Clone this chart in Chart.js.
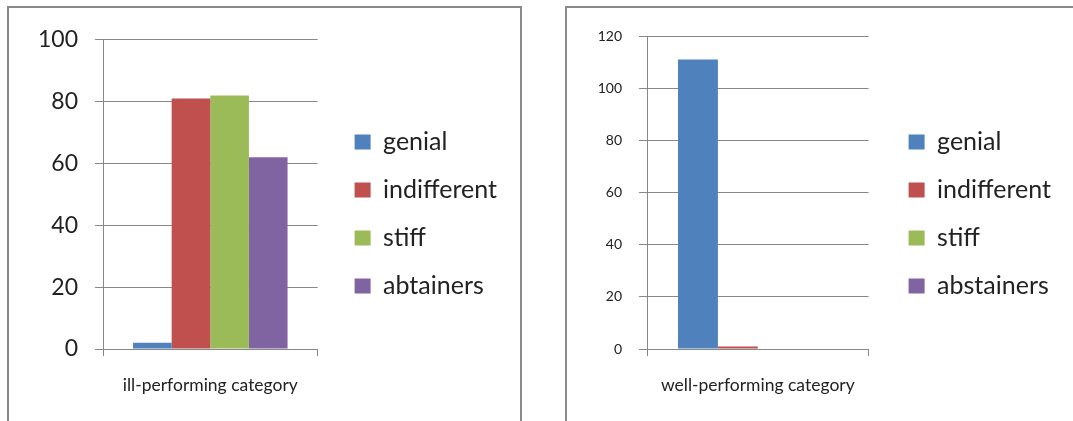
<!DOCTYPE html>
<html>
<head>
<meta charset="utf-8">
<script src="https://cdn.jsdelivr.net/npm/chart.js@4"></script>
<style>
  body { margin: 0; background: #fff; width: 1073px; height: 421px; overflow: hidden; position: relative; }
  .panel { position: absolute; border: 2px solid #8a8a8a; box-sizing: border-box; background: #fff; }
  canvas { position: absolute; }
</style>
</head>
<body>
<div class="panel" style="left:7px; top:6px; width:515px; height:440px;"></div>
<div class="panel" style="left:565px; top:6px; width:530px; height:440px;"></div>
<canvas id="illChart" width="510" height="412" style="left:9px; top:9px;"></canvas>
<canvas id="wellChart" width="505" height="412" style="left:568px; top:9px;"></canvas>
<script>
// categories and series
const illCategory = ['ill-performing category'];
const wellCategory = ['well-performing category'];
const illSeries = ['genial', 'indifferent', 'stiff', 'abtainers'];
const wellSeries = ['genial', 'indifferent', 'stiff', 'abstainers'];
const illValues = [2, 81, 82, 62];
const wellValues = [111, 1, 0, 0];
const illTicks = [0, 20, 40, 60, 80, 100];
const wellTicks = [0, 20, 40, 60, 80, 100, 120];
const colors = ['#4F81BD', '#C0504D', '#9BBB59', '#8064A2'];

const FONT = 'Lato';
const GRID = '#878787';
const LEG_SIZE = 25;
const LEG_PAD = 23;
const LEG_BOX = 16;

// width chart.js gives a vertical legend (so we can place it exactly)
function legendWidth(names) {
  const ctx = document.createElement('canvas').getContext('2d');
  ctx.font = LEG_SIZE + 'px ' + FONT;
  let w = 0;
  names.forEach(n => { w = Math.max(w, ctx.measureText(n).width); });
  return Math.ceil(LEG_PAD + LEG_BOX + LEG_SIZE / 2 + w + 10);
}

function buildConfig(category, names, values, ticks, opt) {
  const datasets = [];
  names.forEach((name, i) => {
    datasets.push({
      label: name,
      data: [values[i]],
      backgroundColor: colors[i],
      borderWidth: 0,
      categoryPercentage: 0.72,
      barPercentage: 1.0
    });
  });
  const legLeft = opt.boxX - LEG_PAD;
  const legW = legendWidth(names);
  const padRight = Math.max(0, opt.width - legLeft - legW);
  return {
    type: 'bar',
    data: { labels: category, datasets: datasets },
    options: {
      responsive: false,
      animation: false,
      layout: { padding: { top: 23, bottom: 25, left: 0, right: padRight } },
      plugins: {
        tooltip: { enabled: false },
        legend: {
          position: 'right',
          align: 'center',
          maxWidth: legW,
          labels: {
            boxWidth: LEG_BOX,
            boxHeight: 15,
            padding: LEG_PAD,
            color: '#222',
            font: { family: FONT, size: LEG_SIZE }
          }
        }
      },
      scales: {
        x: {
          grid: { offset: true, drawOnChartArea: false, color: GRID, tickLength: 7 },
          border: { color: GRID },
          ticks: { padding: 19, color: '#222', font: { family: FONT, size: 17.5 } },
          afterFit: (s) => { s.height = 47; }
        },
        y: {
          min: ticks[0],
          max: ticks[ticks.length - 1],
          afterBuildTicks: (s) => { s.ticks = ticks.map(v => ({ value: v })); },
          grid: { color: GRID, tickLength: 8 },
          border: { color: GRID },
          ticks: { padding: 17, color: '#222', font: { family: FONT, size: opt.yFont } },
          afterFit: (s) => { s.width = opt.yWidth; }
        },
        // empty spacers: between plot and legend, and above the plot
        gapRight: {
          type: 'linear',
          position: 'right',
          grid: { display: false },
          border: { display: false },
          ticks: { display: false },
          afterFit: (s) => { s.width = legLeft - opt.plotRight; }
        },
        gapTop: {
          type: 'linear',
          position: 'top',
          grid: { display: false },
          border: { display: false },
          ticks: { display: false },
          afterFit: (s) => { s.height = opt.topGap; }
        }
      }
    }
  };
}

new Chart(document.getElementById('illChart'),
  buildConfig(illCategory, illSeries, illValues, illTicks,
    { width: 510, plotRight: 308, boxX: 345, yWidth: 94, yFont: 23, topGap: 5 }));

new Chart(document.getElementById('wellChart'),
  buildConfig(wellCategory, wellSeries, wellValues, wellTicks,
    { width: 505, plotRight: 300, boxX: 340, yWidth: 79, yFont: 14, topGap: 4 }));
</script>
</body>
</html>
